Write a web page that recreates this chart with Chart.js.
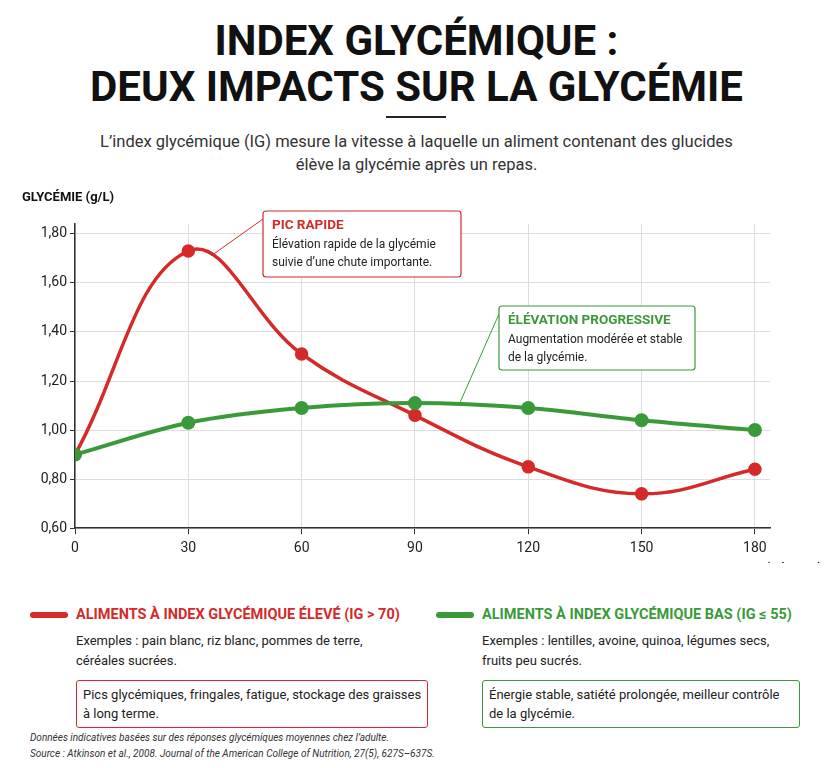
<!DOCTYPE html>
<html><head><meta charset="utf-8">
<script src="https://cdn.jsdelivr.net/npm/chart.js@4"></script>
<style>
body{margin:0;width:833px;height:768px;background:#fff;font-family:Roboto,sans-serif;color:#222;position:relative;overflow:hidden}
.t{position:absolute;left:0;width:833px;text-align:center;font-weight:bold;font-size:42px;line-height:46px;top:18px;color:#111;letter-spacing:0px}
.rule{position:absolute;left:386px;top:116px;width:60px;height:2px;background:#222}
.sub{position:absolute;left:0;width:833px;text-align:center;top:130px;font-size:16.5px;line-height:23px;color:#333}
#wrap{position:absolute;left:0;top:185px;width:833px;height:378px}
.lg{position:absolute;top:606px;font-size:14px;white-space:nowrap}
.lg .h{font-weight:bold;font-size:14.5px;display:flex;align-items:center}
.lg .sw{width:38px;height:6px;border-radius:3px;margin-right:8px}
.lg .ex{margin-left:46px;margin-top:8px;font-size:13px;line-height:20px;color:#222}
.lg .bx{display:inline-block;margin-left:46px;margin-top:9px;border:1.5px solid;border-radius:3px;padding:4px 6px;font-size:13px;line-height:19px;min-width:304px}
.src{position:absolute;left:30px;top:730px;font-size:10px;line-height:16px;font-style:italic;color:#333}
</style></head><body>
<div class="t">INDEX GLYCÉMIQUE :<br>DEUX IMPACTS SUR LA GLYCÉMIE</div>
<div class="rule"></div>
<div class="sub">L’index glycémique (IG) mesure la vitesse à laquelle un aliment contenant des glucides<br>élève la glycémie après un repas.</div>
<div id="wrap"><canvas id="c"></canvas></div>
<div class="lg" style="left:30px">
  <div class="h" style="color:#d42a2a"><span class="sw" style="background:#d42a2a"></span>ALIMENTS À INDEX GLYCÉMIQUE ÉLEVÉ (IG &gt; 70)</div>
  <div class="ex">Exemples : pain blanc, riz blanc, pommes de terre,<br>céréales sucrées.</div>
  <div class="bx" style="border-color:#d42a2a">Pics glycémiques, fringales, fatigue, stockage des graisses<br>à long terme.</div>
</div>
<div class="lg" style="left:436px">
  <div class="h" style="color:#3a9a3a"><span class="sw" style="background:#3a9a3a"></span>ALIMENTS À INDEX GLYCÉMIQUE BAS (IG ≤ 55)</div>
  <div class="ex">Exemples : lentilles, avoine, quinoa, légumes secs,<br>fruits peu sucrés.</div>
  <div class="bx" style="border-color:#3a9a3a">Énergie stable, satiété prolongée, meilleur contrôle<br>de la glycémie.</div>
</div>
<div class="src">Données indicatives basées sur des réponses glycémiques moyennes chez l’adulte.<br>Source : Atkinson et al., 2008. Journal of the American College of Nutrition, 27(5), 627S–637S.</div>
<script>
// Données
const minutes = [0, 30, 60, 90, 120, 150, 180];
const igEleve = [0.90, 1.73, 1.31, 1.06, 0.85, 0.74, 0.84];
const igBas = [0.90, 1.03, 1.09, 1.11, 1.09, 1.04, 1.00];
const yTicks = [0.6, 0.8, 1.0, 1.2, 1.4, 1.6, 1.8];

const RED = '#d42a2a', GREEN = '#3a9a3a';
const F = 'Roboto, sans-serif';

// Titres d'axes et encadrés
const notes = {
  id: 'notes',
  afterDraw(chart) {
    const c = chart.ctx, x = chart.scales.x, y = chart.scales.y;
    c.save();
    c.fillStyle = '#111'; c.font = 'bold 13px ' + F; c.textBaseline = 'middle';
    c.textAlign = 'left'; c.fillText('GLYCÉMIE (g/L)', 22, 13);
    c.textAlign = 'right'; c.fillText('TEMPS (minutes)', 822, 384);
    function box(bx, by, w, h, col, title, lines, ax, ay) {
      c.strokeStyle = col; c.lineWidth = 1;
      c.beginPath(); c.moveTo(ax, ay); c.lineTo(bx, by + 8); c.stroke();
      c.fillStyle = '#fff'; c.lineWidth = 1.2;
      c.beginPath(); c.roundRect(bx, by, w, h, 3); c.fill(); c.stroke();
      c.textAlign = 'left'; c.fillStyle = col; c.font = 'bold 13.5px ' + F;
      c.fillText(title, bx + 9, by + 15);
      c.fillStyle = '#222'; c.font = '12px ' + F;
      lines.forEach((l, i) => c.fillText(l, bx + 9, by + 34 + i * 18));
    }
    box(263, 26, 198, 66, RED, 'PIC RAPIDE',
      ['Élévation rapide de la glycémie', 'suivie d’une chute importante.'],
      x.getPixelForValue(36), y.getPixelForValue(1.71));
    box(499, 121, 196, 64, GREEN, 'ÉLÉVATION PROGRESSIVE',
      ['Augmentation modérée et stable', 'de la glycémie.'],
      x.getPixelForValue(102), y.getPixelForValue(1.115));
    c.restore();
  }
};

new Chart(document.getElementById('c'), {
  type: 'line',
  data: {
    datasets: [
      { data: igBas.map((v, i) => ({ x: minutes[i], y: v })), borderColor: GREEN, backgroundColor: GREEN,
        borderWidth: 4, pointRadius: 5, tension: 0.4, cubicInterpolationMode: 'monotone' },
      { data: igEleve.map((v, i) => ({ x: minutes[i], y: v })), borderColor: RED, backgroundColor: RED,
        borderWidth: 3.5, pointRadius: 5, tension: 0.4 }
    ]
  },
  options: {
    responsive: true, maintainAspectRatio: false, animation: false,
    layout: { padding: { top: 39, right: 63, bottom: 0, left: 0 } },
    plugins: { legend: { display: false }, tooltip: { enabled: false } },
    scales: {
      x: {
        type: 'linear', min: 0, max: 184,
        afterBuildTicks: s => { s.ticks = minutes.map(v => ({ value: v })); },
        ticks: { color: '#222', font: { family: F, size: 14 }, padding: 6 },
        grid: { color: '#ddd', tickLength: 6, tickColor: '#333' },
        border: { color: '#333', width: 1.5 }
      },
      y: {
        min: 0.6, max: 1.84,
        afterBuildTicks: s => { s.ticks = yTicks.map(v => ({ value: v })); },
        afterFit: s => { s.width = 75; },
        ticks: { color: '#222', font: { family: F, size: 14 }, callback: v => v.toFixed(2).replace('.', ',') },
        grid: { color: '#ddd', tickLength: 5, tickColor: '#333' },
        border: { color: '#333', width: 1.5 }
      }
    }
  },
  plugins: [notes]
});
</script>
</body></html>
